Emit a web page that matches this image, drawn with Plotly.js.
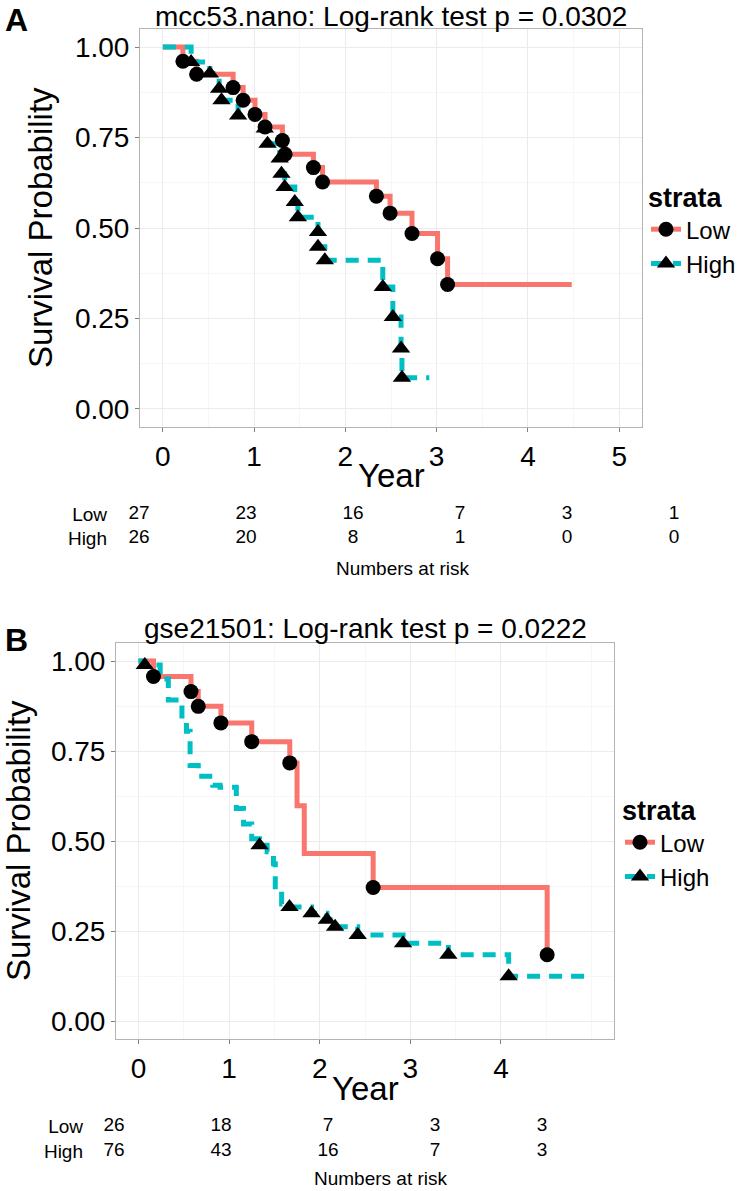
<!DOCTYPE html>
<html>
<head>
<meta charset="utf-8">
<script src="https://cdn.plot.ly/plotly-3.0.1.min.js"></script>
<style>
  body { margin: 0; background: #fff; }
  #chart { width: 755px; height: 1191px; }
</style>
</head>
<body>
<div id="chart"></div>
<script>
// Panel A: mcc53.nano
const lowTimeA = [0, 0.22, 0.37, 0.77, 0.88, 1.01, 1.12, 1.31, 1.34, 1.65, 1.75, 2.34, 2.49, 2.73, 3.01, 3.12, 4.48];
const lowSurvA = [1, 0.961, 0.925, 0.888, 0.853, 0.814, 0.779, 0.742, 0.704, 0.667, 0.627, 0.588, 0.541, 0.485, 0.415, 0.344, 0.344];
const lowMarkTimeA = [0.22, 0.37, 0.77, 0.88, 1.01, 1.12, 1.31, 1.34, 1.65, 1.75, 2.34, 2.49, 2.73, 3.01, 3.12];
const lowMarkSurvA = [0.961, 0.925, 0.888, 0.853, 0.814, 0.779, 0.742, 0.704, 0.667, 0.627, 0.588, 0.541, 0.485, 0.415, 0.344];

const highTimeA = [0, 0.31, 0.515, 0.617, 0.643, 0.825, 1.117, 1.147, 1.28, 1.30, 1.335, 1.446, 1.48, 1.70, 1.70, 1.775, 2.41, 2.52, 2.61, 2.62, 2.92];
const highSurvA = [1, 0.959, 0.927, 0.885, 0.853, 0.811, 0.775, 0.733, 0.692, 0.650, 0.613, 0.572, 0.530, 0.489, 0.448, 0.411, 0.337, 0.254, 0.167, 0.086, 0.086];
const highMarkTimeA = [0.31, 0.515, 0.617, 0.643, 0.825, 1.117, 1.147, 1.28, 1.30, 1.335, 1.446, 1.48, 1.70, 1.70, 1.775, 2.41, 2.52, 2.61, 2.62];
const highMarkSurvA = [0.959, 0.927, 0.885, 0.853, 0.811, 0.775, 0.733, 0.692, 0.650, 0.613, 0.572, 0.530, 0.489, 0.448, 0.411, 0.337, 0.254, 0.167, 0.086];

const riskTimesA = [0, 1, 2, 3, 4, 5];
const riskLowA = [27, 23, 16, 7, 3, 1];
const riskHighA = [26, 20, 8, 1, 0, 0];

// Panel B: gse21501
const lowTimeB = [0, 0.166, 0.58, 0.66, 0.91, 1.25, 1.67, 1.75, 1.83, 2.59, 4.51];
const lowSurvB = [1, 0.957, 0.915, 0.874, 0.828, 0.776, 0.717, 0.598, 0.465, 0.371, 0.184];
const lowMarkTimeB = [0.166, 0.58, 0.66, 0.91, 1.25, 1.67, 2.59, 4.51];
const lowMarkSurvB = [0.957, 0.915, 0.874, 0.828, 0.776, 0.717, 0.371, 0.184];

const highTimeB = [0, 0.07, 0.24, 0.33, 0.48, 0.53, 0.57, 0.66, 0.82, 0.90, 1.08, 1.16, 1.25, 1.336, 1.42, 1.49, 1.51, 1.58, 1.667, 1.91, 2.08, 2.17, 2.42, 2.92, 3.42, 4.085, 4.98];
const highSurvB = [1, 0.989, 0.95, 0.892, 0.84, 0.805, 0.71, 0.68, 0.655, 0.649, 0.59, 0.547, 0.506, 0.488, 0.47, 0.437, 0.373, 0.325, 0.317, 0.299, 0.281, 0.262, 0.239, 0.216, 0.184, 0.124, 0.124];
const highMarkTimeB = [0.07, 1.336, 1.667, 1.91, 2.08, 2.17, 2.42, 2.92, 3.42, 4.085];
const highMarkSurvB = [0.989, 0.488, 0.317, 0.299, 0.281, 0.262, 0.239, 0.216, 0.184, 0.124];

const riskTimesB = [0, 1, 2, 3, 4];
const riskLowB = [26, 18, 7, 3, 3];
const riskHighB = [76, 43, 16, 7, 3];

const strata = ['Low', 'High'];

// layout helpers (pixel -> paper)
const W = 755, H = 1191;
const px = v => v / W;
const py = v => 1 - v / H;

const RED = '#F8766D', TEAL = '#00BFC4';
const FONT = 'Liberation Sans, Arial, Helvetica, sans-serif';
const DASH = '13px,9px';

function curveTraces(xa, ya, legend, data) {
    const out = [];
    data.forEach(d => {
        out.push({
            x: d.t, y: d.s, xaxis: xa, yaxis: ya, type: 'scatter', mode: 'lines',
            line: { shape: 'hv', color: d.color, width: 5, dash: d.dash },
            showlegend: false, hoverinfo: 'skip'
        });
    });
    data.forEach(d => {
        out.push({
            x: d.mt, y: d.ms, xaxis: xa, yaxis: ya, type: 'scatter', mode: 'markers',
            marker: { symbol: d.symbol, size: d.size, color: 'black' },
            showlegend: false, hoverinfo: 'skip'
        });
    });
    // legend entries only
    data.forEach(d => {
        out.push({
            x: [null], y: [null], xaxis: xa, yaxis: ya, type: 'scatter', mode: 'lines+markers',
            name: d.name, legend: legend,
            line: { color: d.color, width: 5, dash: d.dash },
            marker: { symbol: d.symbol, size: d.size, color: 'black' }
        });
    });
    return out;
}

function riskTraces(xa, ya, times, low, high) {
    const font = { size: 19, color: 'black', family: FONT };
    return [
        { x: times, y: times.map(() => strata[0]), text: low.map(String), xaxis: xa, yaxis: ya,
          type: 'scatter', mode: 'text', textfont: font, showlegend: false, hoverinfo: 'skip' },
        { x: times, y: times.map(() => strata[1]), text: high.map(String), xaxis: xa, yaxis: ya,
          type: 'scatter', mode: 'text', textfont: font, showlegend: false, hoverinfo: 'skip' }
    ];
}

const traces = [
    ...curveTraces('x', 'y', 'legend', [
        { t: lowTimeA, s: lowSurvA, mt: lowMarkTimeA, ms: lowMarkSurvA, color: RED, dash: 'solid', symbol: 'circle', size: 15, name: strata[0] },
        { t: highTimeA, s: highSurvA, mt: highMarkTimeA, ms: highMarkSurvA, color: TEAL, dash: DASH, symbol: 'triangle-up', size: 16, name: strata[1] }
    ]),
    ...curveTraces('x2', 'y2', 'legend2', [
        { t: lowTimeB, s: lowSurvB, mt: lowMarkTimeB, ms: lowMarkSurvB, color: RED, dash: 'solid', symbol: 'circle', size: 15, name: strata[0] },
        { t: highTimeB, s: highSurvB, mt: highMarkTimeB, ms: highMarkSurvB, color: TEAL, dash: DASH, symbol: 'triangle-up', size: 16, name: strata[1] }
    ]),
    ...riskTraces('x3', 'y3', riskTimesA, riskLowA, riskHighA),
    ...riskTraces('x4', 'y4', riskTimesB, riskLowB, riskHighB)
];

function survX(dom, range, ticks) {
    return {
        domain: dom, range: range, tickvals: ticks, ticks: 'outside', ticklen: 4, tickcolor: '#7f7f7f',
        tickfont: { size: 28, color: 'black', family: FONT },
        showgrid: true, gridcolor: '#ebebeb', gridwidth: 1,
        minor: { dtick: 0.5, tick0: 0, showgrid: true, gridcolor: '#f6f6f6', gridwidth: 1 },
        zeroline: false, showline: true, mirror: true, linecolor: '#b3b3b3', linewidth: 1
    };
}
function survY(dom) {
    return {
        domain: dom, range: [-0.05, 1.05], dtick: 0.25, tick0: 0, tickformat: '.2f',
        ticks: 'outside', ticklen: 4, tickcolor: '#7f7f7f',
        tickfont: { size: 28, color: 'black', family: FONT },
        showgrid: true, gridcolor: '#ebebeb', gridwidth: 1,
        minor: { dtick: 0.125, tick0: 0, showgrid: true, gridcolor: '#f6f6f6', gridwidth: 1 },
        zeroline: false, showline: true, mirror: true, linecolor: '#b3b3b3', linewidth: 1
    };
}
function riskX(dom, range) {
    return { domain: dom, range: range, visible: false, fixedrange: true };
}
function riskY(dom) {
    return {
        domain: dom, type: 'category', categoryarray: [strata[1], strata[0]], categoryorder: 'array',
        range: [-0.5, 1.5], showgrid: false, zeroline: false, showline: false, ticks: '',
        tickfont: { size: 19, color: 'black', family: FONT }
    };
}

function legendBox(left, top) {
    return {
        x: px(left), y: py(top), xanchor: 'left', yanchor: 'top',
        title: { text: '<b>strata</b>', font: { size: 27, color: 'black', family: FONT } },
        font: { size: 24, color: 'black', family: FONT },
        bgcolor: 'rgba(0,0,0,0)', borderwidth: 0, tracegroupgap: 0
    };
}

function text(str, x, y, size, opts) {
    return Object.assign({
        text: str, x: px(x), y: py(y), xref: 'paper', yref: 'paper', showarrow: false,
        xanchor: 'center', yanchor: 'middle', font: { size: size, color: 'black', family: FONT }
    }, opts || {});
}

const layout = {
    width: W, height: H,
    margin: { l: 0, r: 0, t: 0, b: 0 },
    paper_bgcolor: 'white', plot_bgcolor: 'white',
    font: { family: FONT, color: 'black' },
    xaxis: survX([px(140), px(642)], [-0.25, 5.25], [0, 1, 2, 3, 4, 5]),
    yaxis: survY([py(427), py(29)]),
    xaxis2: Object.assign(survX([px(116), px(614)], [-0.2475, 5.2475], [0, 1, 2, 3, 4]), { anchor: 'y2' }),
    yaxis2: Object.assign(survY([py(1039), py(643)]), { anchor: 'x2' }),
    xaxis3: Object.assign(riskX([px(108), px(700)], [-0.29, 5.243]), { anchor: 'y3' }),
    yaxis3: Object.assign(riskY([py(550), py(502)]), { anchor: 'x3' }),
    xaxis4: Object.assign(riskX([px(84), px(640)], [-0.28, 4.916]), { anchor: 'y4' }),
    yaxis4: Object.assign(riskY([py(1164), py(1114)]), { anchor: 'x4' }),
    legend: legendBox(646, 172),
    legend2: legendBox(620, 785),
    annotations: [
        text('<b>A</b>', 16, 20, 32),
        text('mcc53.nano: Log-rank test p = 0.0302', 391, 17, 28),
        text('Year', 391, 476, 33),
        text('Survival Probability', 40, 228, 33, { textangle: -90 }),
        text('Numbers at risk', 403, 568, 19),
        text('<b>B</b>', 16, 640, 32),
        text('gse21501: Log-rank test p = 0.0222', 365, 628, 28),
        text('Year', 365, 1088, 33),
        text('Survival Probability', 18, 841, 33, { textangle: -90 }),
        text('Numbers at risk', 381, 1178, 19)
    ]
};

Plotly.newPlot('chart', traces, layout, { staticPlot: true, displayModeBar: false });
</script>
</body>
</html>
